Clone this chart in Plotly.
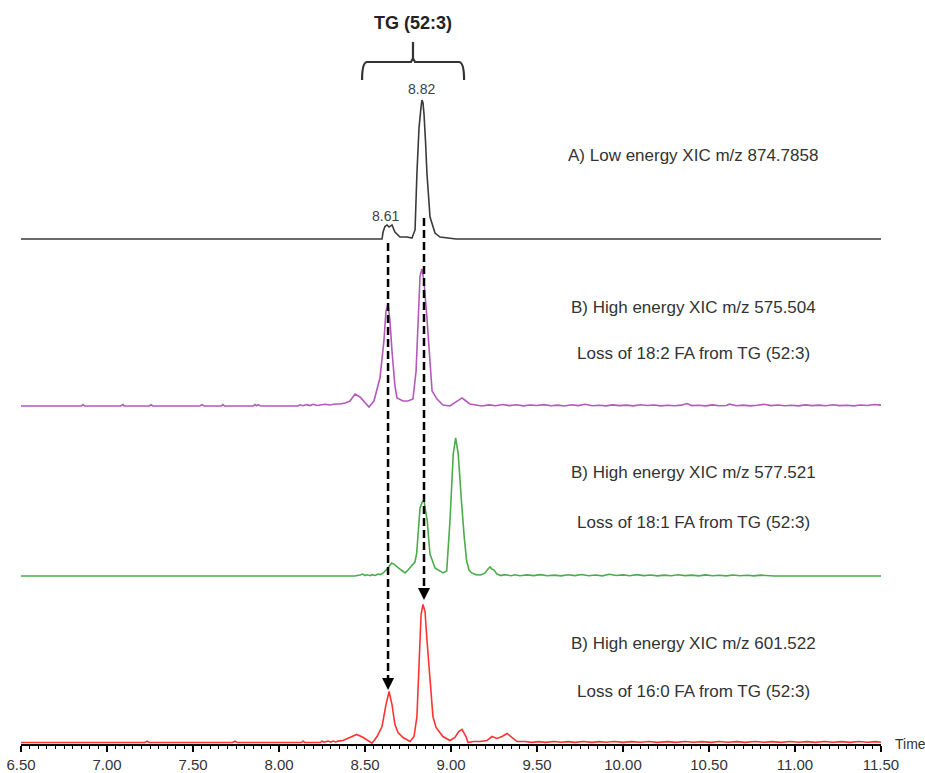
import plotly.graph_objects as go

# ---------------- data (retention time [min], relative intensity [% of trace max]) -------------
XIC_A_874 = [  # A) Low energy XIC m/z 874.7858
    (6.50, 0), (8.599, 0), (8.605, 5.0), (8.616, 9.0), (8.628, 10.1), (8.640, 8.6),
    (8.657, 10.1), (8.674, 5.0), (8.703, 1.4), (8.744, 1.4), (8.773, 0.7), (8.791, 6.5),
    (8.802, 47.5), (8.814, 80.0), (8.826, 95.0), (8.831, 100.0), (8.837, 98.0), (8.843, 90.0),
    (8.852, 70.0), (8.860, 47.5), (8.878, 15.8), (8.907, 4.3), (8.936, 1.4), (8.994, 0.7),
    (9.03, 0), (11.50, 0),
]

XIC_B_575 = [  # B) High energy XIC m/z 575.504 (loss of 18:2)
    (6.50, 0), (6.85, 0), (6.86, 1.0), (6.87, 0), (7.08, 0), (7.093, 1.0), (7.10, 0),
    (7.245, 0), (7.256, 0.9), (7.267, 0), (7.54, 0), (7.552, 1.0), (7.564, 0), (7.664, 0),
    (7.674, 1.0), (7.684, 0), (7.85, 0), (7.86, 1.0), (7.87, 0.2), (7.88, 1.0), (7.89, 0.2),
    (7.90, 0), (8.11, 0), (8.122, 0.9), (8.14, 0.2), (8.16, 1.0), (8.18, 0.3), (8.20, 1.2),
    (8.22, 0.4), (8.238, 0.6), (8.268, 1.2), (8.297, 0.7), (8.326, 1.4), (8.355, 1.4),
    (8.385, 2.2), (8.413, 3.6), (8.442, 8.6), (8.471, 6.5), (8.50, 2.2), (8.523, -0.7),
    (8.552, 3.6), (8.587, 20.1), (8.61, 46.8), (8.622, 68.3), (8.634, 73.4), (8.645, 61.2),
    (8.657, 39.6), (8.674, 14.4), (8.686, 5.8), (8.721, 3.6), (8.75, 3.6), (8.779, 5.0),
    (8.797, 25.2), (8.808, 61.2), (8.820, 93.5), (8.831, 98.6), (8.843, 89.9), (8.86, 63.3),
    (8.878, 32.4), (8.890, 10.8), (8.919, 5.0), (8.953, 0.7), (8.994, 0), (9.029, 2.9),
    (9.064, 5.8), (9.087, 3.6), (9.110, 1.4), (9.145, 0.7), (9.180, 0),
    (9.22, 0.8), (9.26, 0.2), (9.30, 1.1), (9.34, 0.3), (9.38, 0.9), (9.42, 0.1), (9.46, 0.7),
    (9.50, 0.4), (9.54, 1.0), (9.58, 0.2), (9.62, 0.6), (9.66, 0.0), (9.70, 0.9), (9.74, 0.3),
    (9.78, 1.2), (9.82, 0.2), (9.86, 0.5), (9.90, 0.1), (9.94, 0.8), (9.98, 0.3), (10.02, 0.6),
    (10.06, 0.1), (10.10, 0.9), (10.14, 0.4), (10.18, 0.7), (10.22, 0.1), (10.26, 0.5),
    (10.30, 0.2), (10.34, 0.6), (10.37, 1.8), (10.40, 0.3), (10.44, 0.5), (10.48, 0.1),
    (10.52, 0.8), (10.56, 0.2), (10.60, 0.4), (10.62, 1.3), (10.66, 0.2), (10.70, 0.6),
    (10.74, 0.1), (10.78, 0.5), (10.82, 1.2), (10.86, 0.3), (10.90, 0.7), (10.94, 0.2),
    (10.98, 0.5), (11.02, 0.1), (11.06, 0.8), (11.10, 0.3), (11.14, 0.6), (11.18, 0.2),
    (11.22, 0.9), (11.26, 0.3), (11.30, 0.5), (11.34, 0.1), (11.38, 0.7), (11.42, 0.4),
    (11.46, 1.1), (11.50, 0.6),
]

XIC_B_577 = [  # B) High energy XIC m/z 577.521 (loss of 18:1)
    (6.50, 0), (8.44, 0), (8.471, 0.7), (8.488, 1.4), (8.50, 0.3), (8.512, 0.9), (8.53, 0.2),
    (8.541, 1.0), (8.56, 0.4), (8.576, 1.4), (8.59, 1.0), (8.606, 2.2), (8.628, 5.0),
    (8.645, 7.9), (8.655, 9.4), (8.668, 8.6), (8.68, 7.2), (8.692, 5.8), (8.703, 5.0),
    (8.718, 3.6), (8.733, 2.2), (8.75, 4.3), (8.771, 7.2), (8.79, 10.0), (8.80, 15.8),
    (8.81, 30.0), (8.820, 48.9), (8.832, 53.0), (8.843, 54.7), (8.852, 47.0), (8.862, 39.6),
    (8.870, 27.0), (8.878, 15.8), (8.907, 5.8), (8.930, 4.0), (8.953, 2.2), (8.975, 3.6),
    (8.994, 39.6), (9.013, 87.8), (9.027, 99.3), (9.042, 87.8), (9.052, 66.0), (9.062, 51.8),
    (9.077, 28.0), (9.091, 10.8), (9.105, 4.3), (9.120, 2.2), (9.145, 1.0), (9.169, 0.7),
    (9.185, 1.4), (9.198, 2.2), (9.215, 5.0), (9.227, 6.5), (9.238, 5.0), (9.25, 4.3),
    (9.267, 1.4), (9.29, 0.3), (9.31, 1.0), (9.326, 0.7), (9.35, 0.2), (9.372, 0.9),
    (9.40, 0.2), (9.44, 0.8), (9.48, 0.3), (9.52, 1.0), (9.56, 0.2), (9.60, 0.6), (9.64, 0.1),
    (9.68, 0.9), (9.72, 0.3), (9.76, 1.1), (9.80, 0.2), (9.84, 0.7), (9.88, 0.1), (9.92, 1.2),
    (9.96, 0.4), (10.00, 0.8), (10.04, 0.2), (10.08, 1.0), (10.12, 0.3), (10.16, 0.7),
    (10.20, 0.1), (10.24, 0.6), (10.28, 0.2), (10.32, 0.9), (10.36, 0.3), (10.40, 0.6),
    (10.44, 0.1), (10.48, 0.8), (10.52, 0.2), (10.56, 0.5), (10.60, 0.1), (10.64, 0.7),
    (10.68, 0.2), (10.72, 0.5), (10.76, 0.1), (10.80, 0.6), (10.84, 0.1), (10.88, 0), (11.50, 0),
]

XIC_B_601 = [  # B) High energy XIC m/z 601.522 (loss of 16:0)
    (6.50, 0), (7.22, 0), (7.233, 1.0), (7.245, 0), (7.73, 0), (7.744, 1.0), (7.756, 0),
    (8.13, 0), (8.14, 1.0), (8.15, 0), (8.24, 0), (8.25, 1.0), (8.26, 0.2), (8.285, 1.0),
    (8.30, 0.3), (8.315, 1.0), (8.33, 0.4), (8.343, 1.0), (8.372, 1.4), (8.41, 3.6),
    (8.452, 5.8), (8.49, 3.6), (8.52, 1.0), (8.541, -0.5), (8.57, 4.3), (8.599, 11.5),
    (8.622, 27.3), (8.64, 36.7), (8.657, 27.3), (8.674, 12.9), (8.692, 7.2), (8.721, 3.6),
    (8.762, 0.7), (8.785, 4.3), (8.802, 18.7), (8.814, 52.5), (8.826, 92.1), (8.837, 99.3),
    (8.849, 94.2), (8.86, 74.1), (8.878, 43.2), (8.895, 18.7), (8.913, 10.8), (8.953, 4.3),
    (8.994, 1.4), (9.023, 3.6), (9.045, 7.9), (9.064, 9.4), (9.087, 4.3), (9.099, 0),
    (9.13, 0.7), (9.169, 0.7), (9.209, 1.4), (9.238, 4.3), (9.267, 2.9), (9.297, 4.3),
    (9.326, 6.5), (9.355, 3.6), (9.384, 0.7), (9.43, 0.7), (9.47, 0.1), (9.51, 0.6),
    (9.55, 0.1), (9.60, 0.7), (9.64, 0.2), (9.68, 0.6), (9.72, 0.1), (9.77, 0.7), (9.82, 0.1),
    (9.86, 0.6), (9.90, 0.2), (9.95, 0.7), (10.00, 0.1), (10.05, 0.6), (10.10, 0.2),
    (10.15, 0.7), (10.20, 0.1), (10.26, 0.6), (10.31, 0.1), (10.36, 0.7), (10.41, 0.2),
    (10.46, 0.6), (10.51, 0.1), (10.56, 0.7), (10.61, 0.2), (10.66, 0.6), (10.71, 0.1),
    (10.77, 0.7), (10.82, 0.2), (10.87, 0.6), (10.92, 0.1), (10.97, 0.7), (11.02, 0.2),
    (11.07, 0.6), (11.12, 0.1), (11.17, 0.7), (11.22, 0.2), (11.27, 0.6), (11.32, 0.1),
    (11.37, 0.7), (11.42, 0.2), (11.47, 0.6), (11.50, 0.2),
]

PEAK_LABELS = ["8.61", "8.82"]
PEAK_TIMES = [8.622, 8.831]
LIPID = "TG (52:3)"
TRACE_TITLES = [
    "A) Low energy XIC m/z 874.7858",
    "B) High energy XIC m/z 575.504",
    "B) High energy XIC m/z 577.521",
    "B) High energy XIC m/z 601.522",
]
TRACE_SUBTITLES = [
    None,
    "Loss of 18:2 FA from TG (52:3)",
    "Loss of 18:1 FA from TG (52:3)",
    "Loss of 16:0 FA from TG (52:3)",
]
TICK_VALUES = [6.5, 7.0, 7.5, 8.0, 8.5, 9.0, 9.5, 10.0, 10.5, 11.0, 11.5]
TICK_LABELS = ["6.50", "7.00", "7.50", "8.00", "8.50", "9.00", "9.50", "10.00", "10.50", "11.00", "11.50"]

# ---------------- layout constants ----------------
W, H = 925, 773
ML, MR, MT, MB = 21, 44, 0, 29
PX_PER_UNIT = 1.39                      # 100 % = 139 px
Y0 = -1.2
Y_TOP = Y0 + (H - MT - MB) / PX_PER_UNIT
FONT = "Liberation Sans, Arial, sans-serif"
TXT = "#333333"


def yv(px):
    """pixel row -> y value"""
    return Y0 + (H - MB - px) / PX_PER_UNIT


BASELINE_ROWS = [239, 406, 576, 742.5]
OFFSETS = [yv(r) for r in BASELINE_ROWS]     # vertical stacking of the four traces
COLORS = ["#3a3a3a", "#b458bd", "#4aad4a", "#ff3333"]

fig = go.Figure()
for data, off, col in zip([XIC_A_874, XIC_B_575, XIC_B_577, XIC_B_601], OFFSETS, COLORS):
    xs = [p[0] for p in data]
    ys = [p[1] + off for p in data]
    fig.add_trace(go.Scatter(x=xs, y=ys, mode="lines", line=dict(color=col, width=1.6),
                             hoverinfo="skip", showlegend=False))

# dashed connector lines with arrowheads
dash_tops = [yv(243), yv(218)]
dash_tips = [yv(690), yv(600)]
for t, y0, y1 in zip([8.634, 8.843], dash_tops, dash_tips):
    fig.add_shape(type="line", x0=t, x1=t, y0=y0, y1=y1 + 4, xref="x", yref="y",
                  line=dict(color="black", width=2.5, dash="8px,4px"))
    fig.add_annotation(x=t, y=y1, xref="x", yref="y", text="", showarrow=True,
                       ax=0, ay=-12, arrowhead=2, arrowsize=1.2, arrowwidth=2,
                       arrowcolor="black")

# brace over TG (52:3)
xl, xr, xc = 8.483, 9.076, 8.779
yh, ye, yt = yv(62), yv(80), yv(42)
path = (f"M {xl},{ye} Q {xl},{yh} {xl + 0.03},{yh} L {xc - 0.012},{yh} L {xc},{yh + 2.5} "
        f"L {xc + 0.012},{yh} L {xr - 0.03},{yh} Q {xr},{yh} {xr},{ye} "
        f"M {xc},{yh + 2.5} L {xc},{yt}")
fig.add_shape(type="path", path=path, xref="x", yref="y",
              line=dict(color="#333333", width=2.2))
fig.add_annotation(x=xc, y=yv(23), xref="x", yref="y", text=f"<b>{LIPID}</b>",
                   showarrow=False, font=dict(family=FONT, size=18, color="#222222"))

# peak labels
for lab, t, py in zip(PEAK_LABELS, PEAK_TIMES, [216, 89]):
    fig.add_annotation(x=t, y=yv(py), xref="x", yref="y", text=lab, showarrow=False,
                       font=dict(family=FONT, size=14, color="#3a3f4a"))

# trace titles
title_rows = [155, 307, 472, 643]
sub_rows = [None, 353, 522, 691]
xt = 6.5 + (693 - ML) / 172
for title, sub, r1, r2 in zip(TRACE_TITLES, TRACE_SUBTITLES, title_rows, sub_rows):
    fig.add_annotation(x=xt, y=yv(r1), xref="x", yref="y", text=title, showarrow=False,
                       font=dict(family=FONT, size=17, color=TXT))
    if sub:
        fig.add_annotation(x=xt, y=yv(r2), xref="x", yref="y", text=sub, showarrow=False,
                           font=dict(family=FONT, size=17, color=TXT))

fig.add_annotation(x=1.014, y=0, xref="paper", yref="paper", text="Time",
                   xanchor="left", yanchor="middle", showarrow=False,
                   font=dict(family=FONT, size=14, color=TXT))

fig.update_xaxes(range=[6.5, 11.5], showline=True, linecolor="black", linewidth=2,
                 ticks="outside", ticklen=6, tickwidth=1.5, tickcolor="black",
                 tickvals=TICK_VALUES, ticktext=TICK_LABELS,
                 minor=dict(dtick=0.05, tick0=6.5, ticks="outside", ticklen=3,
                            tickwidth=1.2, tickcolor="black"),
                 showgrid=False, zeroline=False,
                 tickfont=dict(family=FONT, size=15, color=TXT))
fig.update_yaxes(visible=False, range=[Y0, Y_TOP], showgrid=False, zeroline=False)

fig.update_layout(width=W, height=H, margin=dict(l=ML, r=MR, t=MT, b=MB),
                  plot_bgcolor="white", paper_bgcolor="white")

fig.write_html("out.html")
